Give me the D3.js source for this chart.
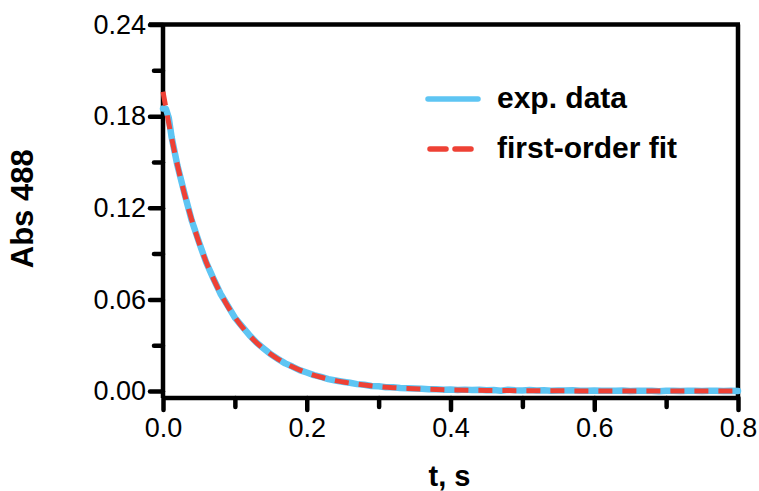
<!DOCTYPE html>
<html>
<head>
<meta charset="utf-8">
<script src="https://cdn.jsdelivr.net/npm/d3@7/dist/d3.min.js"></script>
<style>
  html, body { margin: 0; padding: 0; background: #fff; }
  svg { display: block; }
  text { font-family: "Liberation Sans", Arial, sans-serif; }
</style>
</head>
<body>
<svg id="chart" width="759" height="491"></svg>
<script>
// ---- Data ----
const expT = [0, 0.004, 0.008, 0.012, 0.02, 0.03, 0.04, 0.05, 0.06, 0.07, 0.08, 0.09, 0.10,
  0.11, 0.12, 0.13, 0.14, 0.15, 0.16, 0.17, 0.18, 0.19, 0.20, 0.21, 0.22, 0.23, 0.24, 0.25,
  0.26, 0.27, 0.28, 0.29, 0.30, 0.31, 0.32, 0.33, 0.34, 0.35, 0.36, 0.37, 0.38, 0.39, 0.40,
  0.41, 0.42, 0.43, 0.44, 0.45, 0.46, 0.47, 0.48, 0.49, 0.50, 0.51, 0.52, 0.53, 0.54, 0.55,
  0.56, 0.57, 0.58, 0.59, 0.60, 0.61, 0.62, 0.63, 0.64, 0.65, 0.66, 0.67, 0.68, 0.69, 0.70,
  0.71, 0.72, 0.73, 0.74, 0.75, 0.76, 0.77, 0.78, 0.79, 0.80];
const expAbs = [0.1850, 0.1848, 0.1790, 0.1662, 0.1478, 0.1292, 0.1116, 0.0976, 0.0843, 0.0738,
  0.0637, 0.0559, 0.0480, 0.0423, 0.0367, 0.0318, 0.0279, 0.0240, 0.0210, 0.0181, 0.0160,
  0.0137, 0.0121, 0.0104, 0.0092, 0.0078, 0.0069, 0.0061, 0.0054, 0.0045, 0.0041, 0.0033,
  0.0031, 0.0025, 0.0024, 0.0019, 0.0018, 0.0016, 0.0014, 0.0011, 0.0012, 0.0009, 0.0010,
  0.0007, 0.0009, 0.0006, 0.0008, 0.0005, 0.0006, 0.0002, 0.0008, 0.0005, 0.0004, 0.0006,
  0.0003, 0.0005, 0.0002, 0.0004, 0.0003, 0.0005, 0.0002, 0.0001, 0.0003, 0.0001, 0.0002,
  0.0001, 0.0003, 0.0000, 0.0002, 0.0001, 0.0002, -0.0001, 0.0002, 0.0001, 0.0000, 0.0002,
  0.0001, 0.0000, 0.0002, 0.0001, 0.0000, 0.0001, 0.0000];

const fitT = [0, 0.01, 0.02, 0.03, 0.04, 0.05, 0.06, 0.07, 0.08, 0.09, 0.10, 0.12, 0.14, 0.16,
  0.18, 0.20, 0.22, 0.24, 0.26, 0.28, 0.30, 0.32, 0.34, 0.36, 0.38, 0.40, 0.45, 0.50, 0.55,
  0.60, 0.70, 0.80];
const fitAbs = [0.1960, 0.1704, 0.1481, 0.1288, 0.1120, 0.0973, 0.0846, 0.0736, 0.0640, 0.0556,
  0.0483, 0.0365, 0.0276, 0.0209, 0.0158, 0.0119, 0.0090, 0.0068, 0.0052, 0.0039, 0.0029,
  0.0022, 0.0017, 0.0013, 0.0010, 0.0007, 0.0004, 0.0002, 0.0001, 0.00005, 0.00001, 0.0];

const yMajorTicks = [0, 0.06, 0.12, 0.18, 0.24];
const yMinorTicks = [0.03, 0.09, 0.15, 0.21];
const xMajorTicks = [0, 0.2, 0.4, 0.6, 0.8];
const xMinorTicks = [0.1, 0.3, 0.5, 0.7];

const seriesNames = ["exp. data", "first-order fit"];
const xLabel = "t, s";
const yLabel = "Abs 488";

// ---- Layout ----
const svg = d3.select("#chart");
const pLeft = 163, pRight = 738, pTop = 24.5, yZero = 391, axisY = 398;
const ink = "#000";
const axisW = 4.5;
const blue = "#5ec5f3";
const red = "#ee4135";

const x = d3.scaleLinear().domain([0, 0.8]).range([pLeft, pRight]);
const y = d3.scaleLinear().domain([0, 0.24]).range([yZero, pTop]);

// Frame
const frame = svg.append("g")
  .attr("stroke", ink).attr("stroke-width", axisW).attr("fill", "none");
frame.append("line").attr("x1", pLeft).attr("x2", pLeft).attr("y1", pTop).attr("y2", axisY);
frame.append("line").attr("x1", pLeft - 14).attr("x2", pRight + 2).attr("y1", pTop).attr("y2", pTop);
frame.append("line").attr("x1", pRight).attr("x2", pRight).attr("y1", pTop).attr("y2", axisY);
frame.append("line").attr("x1", pLeft).attr("x2", pRight + 2).attr("y1", axisY).attr("y2", axisY);

function styleAxis(g) {
  g.select(".domain").remove();
  g.selectAll(".tick line").attr("stroke", ink).attr("stroke-width", axisW).attr("stroke-linecap", "round");
  g.selectAll(".tick text")
    .attr("fill", ink)
    .style("font-family", '"Liberation Sans", Arial, sans-serif')
    .style("font-size", "27px");
}

// Y axis
svg.append("g").attr("transform", `translate(${pLeft},0)`)
  .call(d3.axisLeft(y).tickValues(yMajorTicks).tickSize(13).tickPadding(4).tickFormat(d3.format(".2f")))
  .call(styleAxis);
svg.append("g").attr("transform", `translate(${pLeft},0)`)
  .call(d3.axisLeft(y).tickValues(yMinorTicks).tickSize(9).tickFormat(""))
  .call(styleAxis);

// X axis
svg.append("g").attr("transform", `translate(0,${axisY})`)
  .call(d3.axisBottom(x).tickValues(xMajorTicks).tickSize(12).tickPadding(8).tickFormat(d3.format(".1f")))
  .call(styleAxis);
svg.append("g").attr("transform", `translate(0,${axisY})`)
  .call(d3.axisBottom(x).tickValues(xMinorTicks).tickSize(9).tickFormat(""))
  .call(styleAxis);

// Axis titles
svg.append("text")
  .attr("transform", `translate(33,${(pTop + yZero) / 2 + 1}) rotate(-90)`)
  .attr("text-anchor", "middle")
  .style("font-size", "31px").style("font-weight", "bold")
  .text(yLabel);
svg.append("text")
  .attr("x", (pLeft + pRight) / 2 - 1).attr("y", 486)
  .attr("text-anchor", "middle")
  .style("font-size", "29px").style("font-weight", "bold")
  .text(xLabel);

// Lines
const expData = expT.map((t, i) => [t, expAbs[i]]);
const fitData = fitT.map((t, i) => [t, fitAbs[i]]);

svg.append("path").datum(expData)
  .attr("d", d3.line().x(d => x(d[0])).y(d => y(d[1])))
  .attr("fill", "none").attr("stroke", blue).attr("stroke-width", 6.5)
  .attr("stroke-linejoin", "round").attr("stroke-linecap", "round");
svg.append("path").datum(fitData)
  .attr("d", d3.line().x(d => x(d[0])).y(d => y(d[1])).curve(d3.curveMonotoneX))
  .attr("fill", "none").attr("stroke", red).attr("stroke-width", 5)
  .attr("stroke-dasharray", "14,10").attr("stroke-linecap", "butt");

// Legend
const legend = svg.append("g");
legend.append("line").attr("x1", 428).attr("x2", 478).attr("y1", 99).attr("y2", 99)
  .attr("stroke", blue).attr("stroke-width", 5.5).attr("stroke-linecap", "round");
legend.append("line").attr("x1", 430).attr("x2", 476).attr("y1", 149).attr("y2", 149)
  .attr("stroke", red).attr("stroke-width", 5.5).attr("stroke-linecap", "round")
  .attr("stroke-dasharray", "16,9");
legend.append("text").attr("x", 497).attr("y", 108)
  .style("font-size", "30px").style("font-weight", "bold").text(seriesNames[0]);
legend.append("text").attr("x", 497).attr("y", 158)
  .style("font-size", "30px").style("font-weight", "bold").text(seriesNames[1]);
</script>
</body>
</html>
